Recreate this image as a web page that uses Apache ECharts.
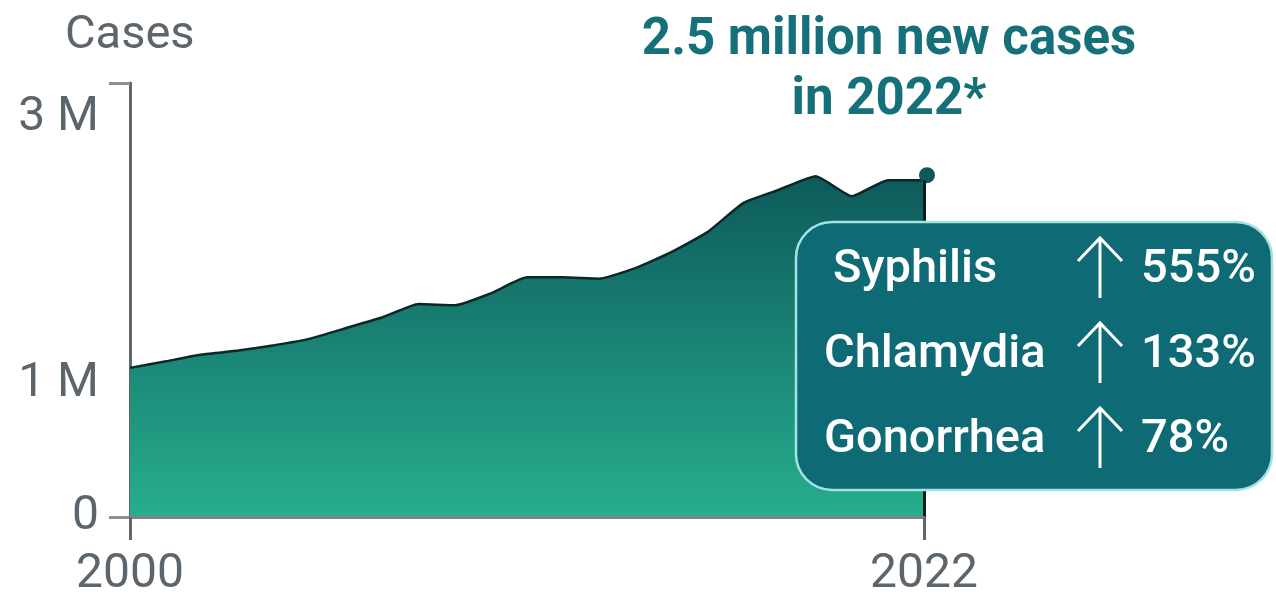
<!DOCTYPE html>
<html>
<head>
<meta charset="utf-8">
<script src="https://cdn.jsdelivr.net/npm/echarts@6/dist/echarts.min.js"></script>
<style>
  html, body { margin: 0; padding: 0; background: #fff; }
  #chart { width: 1276px; height: 593px; }
</style>
</head>
<body>
<div id="chart"></div>
<script>
var years = [2000, 2001, 2002, 2003, 2004, 2005, 2006, 2007, 2008, 2009, 2010, 2011,
  2012, 2013, 2014, 2015, 2016, 2017, 2018, 2019, 2020, 2021, 2022];
var cases = [1.12, 1.17, 1.22, 1.25, 1.29, 1.34, 1.42, 1.50, 1.60, 1.59, 1.68, 1.80,
  1.80, 1.79, 1.87, 1.99, 2.14, 2.36, 2.46, 2.56, 2.41, 2.53, 2.53];
var yTicks = [0, 1, 3];
var xTicks = [2000, 2022];
var diseases = ['Syphilis', 'Chlamydia', 'Gonorrhea'];
var increases = ['555%', '133%', '78%'];

var yMax = 3.26;
var points = years.map(function (y, i) { return [y, cases[i]]; });
var last = points[points.length - 1];

var chartDom = document.getElementById('chart');
var myChart = echarts.init(chartDom);
var font = 'Roboto';
var gray = '#5d656c';

var boxText = [];
diseases.forEach(function (d, i) {
  var cy = 270 + i * 85;
  boxText.push({
    type: 'text', z: 11,
    style: { x: i === 0 ? 833 : 824, y: cy, text: d, fill: '#ffffff', font: '500 47px ' + font, textVerticalAlign: 'middle' }
  });
  boxText.push({
    type: 'text', z: 11,
    style: { x: 1141, y: cy, text: increases[i], fill: '#ffffff', font: '500 47px ' + font, textVerticalAlign: 'middle' }
  });
  // arrow
  boxText.push({
    type: 'line', z: 11,
    shape: { x1: 1100, y1: cy - 32, x2: 1100, y2: cy + 28 },
    style: { stroke: '#ffffff', lineWidth: 3 }
  });
  boxText.push({
    type: 'polyline', z: 11,
    shape: { points: [[1078, cy - 9], [1100, cy - 32], [1122, cy - 9]] },
    style: { stroke: '#ffffff', lineWidth: 3, fill: null }
  });
});

var option = {
  animation: false,
  backgroundColor: '#ffffff',
  title: [
    {
      text: 'Cases', left: 60, top: 8,
      textStyle: { color: gray, fontSize: 47, fontWeight: 'normal', fontFamily: font }
    },
    {
      text: '2.5 million new cases\nin 2022*', left: 884, top: 6, textAlign: 'center',
      textStyle: { color: '#16707a', fontSize: 51, fontWeight: 'bold', fontFamily: font, lineHeight: 60, align: 'center' }
    }
  ],
  grid: { left: 130, right: 352, top: 83, bottom: 76, outerBoundsMode: 'none' },
  xAxis: {
    type: 'value', min: 2000, max: 2022, z: 5,
    splitLine: { show: false },
    axisLine: { lineStyle: { color: '#7d8285', width: 3 } },
    axisTick: { customValues: xTicks, length: 23, lineStyle: { color: '#62676b', width: 3 } },
    axisLabel: {
      customValues: xTicks, margin: 34, color: gray, fontSize: 48, fontFamily: font,
      formatter: function (v) { return String(v); }
    }
  },
  yAxis: {
    type: 'value', min: 0, max: yMax,
    splitLine: { show: false },
    axisLine: { show: true, lineStyle: { color: '#62676b', width: 3 } },
    axisTick: { show: true, customValues: [0, yMax], length: 21, lineStyle: { color: '#8a8f92', width: 3 } },
    axisLabel: {
      customValues: yTicks, margin: 31, color: gray, fontSize: 48, fontFamily: font,
      formatter: function (v) { return v === 0 ? '0' : v + ' M'; }
    }
  },
  series: [
    {
      type: 'line',
      data: points,
      symbol: 'none',
      smooth: 0.15,
      lineStyle: { color: '#0a2826', width: 2.5 },
      areaStyle: {
        opacity: 1,
        color: new echarts.graphic.LinearGradient(0, 0, 0, 1, [
          { offset: 0, color: '#0d5a5b' },
          { offset: 1, color: '#27ae8e' }
        ])
      },
      markLine: {
        symbol: 'none', silent: true,
        label: { show: false },
        lineStyle: { color: '#0a1e1d', width: 3, type: 'solid' },
        data: [[{ coord: [last[0], 0] }, { coord: [last[0], last[1]] }]]
      }
    },
    {
      type: 'scatter',
      data: [last],
      symbolSize: 16,
      symbolOffset: [3, -5],
      itemStyle: { color: '#0c585a', opacity: 1 },
      z: 4
    }
  ],
  graphic: [
    {
      type: 'rect', z: 10,
      shape: { x: 796, y: 222, width: 476, height: 268, r: 36 },
      style: { fill: '#0e6b76', stroke: '#a4e2e4', lineWidth: 2.5 }
    }
  ].concat(boxText)
};

option && myChart.setOption(option);
</script>
</body>
</html>
